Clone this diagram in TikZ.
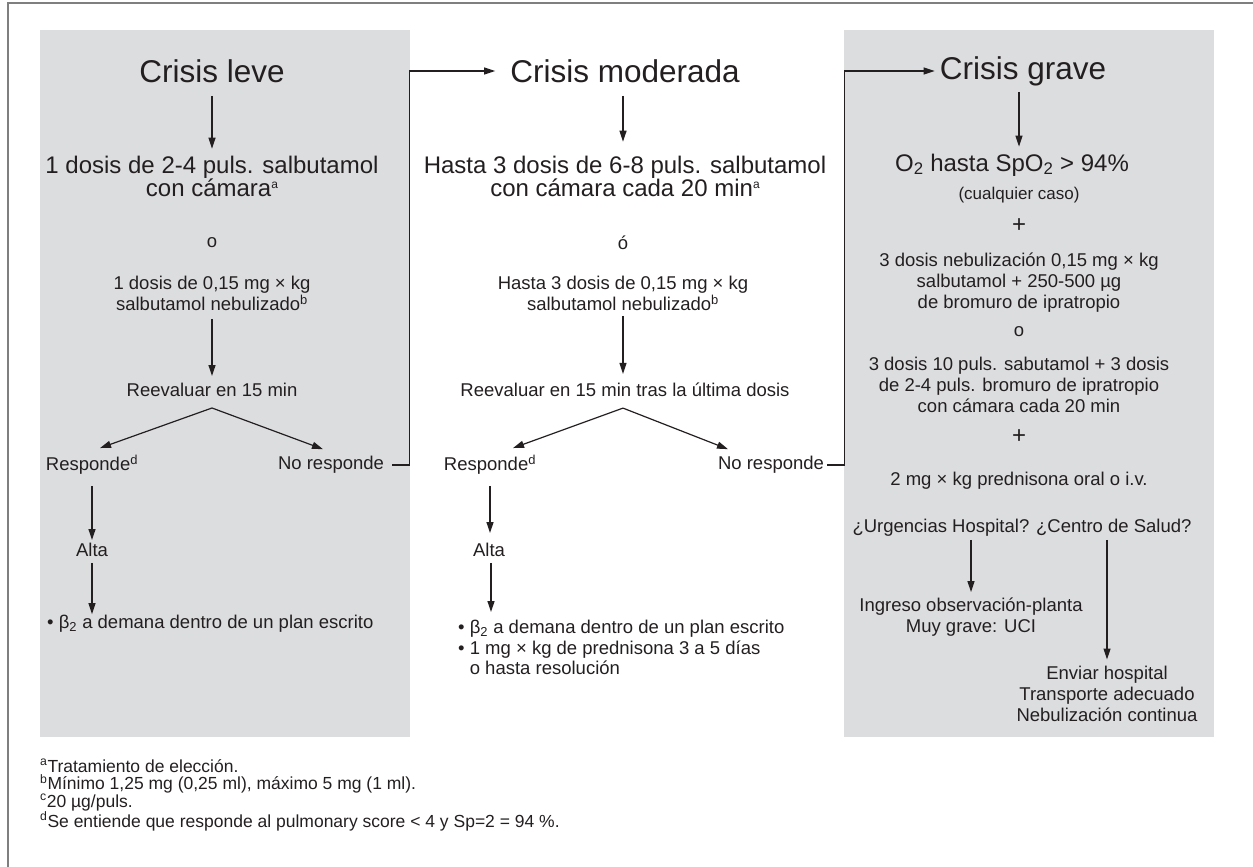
\documentclass[tikz,border=0pt]{standalone}
\usepackage{fontspec}
\setmainfont{Liberation Sans}
\usepackage{xcolor}
\usepackage{tikz}
\usetikzlibrary{arrows.meta}

\definecolor{ink}{HTML}{231F20}
\definecolor{panelgris}{HTML}{DCDDDF}
\definecolor{marco}{HTML}{7F7F7F}

% small index for the large text
\newcommand{\supind}[1]{\raisebox{8pt}{\fontsize{12}{12}\selectfont #1}}

\tikzset{
  titulo/.style={font=\fontsize{31.5}{36}\selectfont, text=ink, inner sep=0pt},
  grande/.style={font=\fontsize{24}{23.5}\selectfont, text=ink, align=center, inner sep=0pt},
  texto/.style={font=\fontsize{18.5}{21}\selectfont, text=ink, align=center, inner sep=0pt},
  lista/.style={font=\fontsize{18.5}{20.5}\selectfont, text=ink, align=left, inner sep=0pt},
  nota/.style={font=\fontsize{17.5}{17.5}\selectfont, text=ink, align=left, inner sep=0pt},
  flecha/.style={draw=ink, line width=1.2pt, -{Triangle[length=11pt,width=7pt]}},
}

\begin{document}
\begin{tikzpicture}[x=1pt, y=-1pt]
      \useasboundingbox (0,0) rectangle (1253,867);

      % Frame
      \draw[marco, line width=1.5pt] (1253,3) -- (8,3) -- (8,867);

      % Grey panels
      \fill[panelgris] (40,30) rectangle (410,737);
      \fill[panelgris] (844,30) rectangle (1214,737);

      % Crisis leve
      \node[titulo] (leve) at (212,71) {Crisis leve};
      \node[grande] (dosis1) at (212,176.5) {1 dosis de 2-4 puls. salbutamol\\con cámara\supind{a}};
      \node[texto] (o1) at (212,243) {o};
      \node[texto] (neb1) at (212,293.5) {1 dosis de 0,15 mg × kg\\salbutamol nebulizado\textsuperscript{b}};
      \node[texto] (reev1) at (212,390) {Reevaluar en 15 min};
      \node[texto] (resp1) at (92,465) {Responde\textsuperscript{d}};
      \node[texto] (nores1) at (331,465) {No responde};
      \node[texto] (alta1) at (92,550) {Alta};
      \node[lista, anchor=west] (plan1) at (47,624) {• β\textsubscript{2} a demana dentro de un plan escrito};

      % Crisis moderada
      \node[titulo] (moderada) at (625,71) {Crisis moderada};
      \node[grande] (dosis2) at (625,176.5) {Hasta 3 dosis de 6-8 puls. salbutamol\\con cámara cada 20 min\supind{a}};
      \node[texto] (o2) at (623,243) {ó};
      \node[texto] (neb2) at (623,293.5) {Hasta 3 dosis de 0,15 mg × kg\\salbutamol nebulizado\textsuperscript{b}};
      \node[texto] (reev2) at (625,390) {Reevaluar en 15 min tras la última dosis};
      \node[texto] (resp2) at (490,465) {Responde\textsuperscript{d}};
      \node[texto] (nores2) at (771,465) {No responde};
      \node[texto] (alta2) at (489,550) {Alta};
      \node[lista, anchor=west] (plan2) at (458,647.5) {• β\textsubscript{2} a demana dentro de un plan escrito\\• 1 mg × kg de prednisona 3 a 5 días\\\phantom{• }o hasta resolución};

      % Crisis grave
      \node[titulo] (grave) at (1023,71) {Crisis grave};
      \node[grande] (sat) at (1012,165) {O\textsubscript{2} hasta SpO\textsubscript{2} > 94\%};
      \node[texto, font=\fontsize{17}{20}\selectfont] (caso) at (1019,195) {(cualquier caso)};
      \node[grande] (mas1) at (1019,226) {+};
      \node[texto] (neb3) at (1019,283) {3 dosis nebulización 0,15 mg × kg\\salbutamol + 250-500 µg\\de bromuro de ipratropio};
      \node[texto] (o3) at (1019,332) {o};
      \node[texto] (puls3) at (1019,385) {3 dosis 10 puls. sabutamol + 3 dosis\\de 2-4 puls. bromuro de ipratropio\\con cámara cada 20 min};
      \node[grande] (mas2) at (1019,437) {+};
      \node[texto] (pred3) at (1019,481) {2 mg × kg prednisona oral o i.v.};
      \node[texto] (donde) at (1022,528) {¿Urgencias Hospital? ¿Centro de Salud?};
      \node[texto] (ingreso) at (971,617.5) {Ingreso observación-planta\\Muy grave: UCI};
      \node[texto] (enviar) at (1107,693.5) {Enviar hospital\\Transporte adecuado\\Nebulización continua};

      % Footnotes
      \node[nota, anchor=west] (notas) at (40,795) {\textsuperscript{a}Tratamiento de elección.\\\textsuperscript{b}Mínimo 1,25 mg (0,25 ml), máximo 5 mg (1 ml).\\\textsuperscript{c}20 µg/puls.\\\textsuperscript{d}Se entiende que responde al pulmonary score < 4 y Sp=2 = 94 \%.};

      % Arrows, left column
      \draw[flecha, shorten <=13pt, shorten >=7pt] (leve.south) -- (dosis1.north);
      \draw[flecha, shorten <=8pt, shorten >=7pt] (neb1.south) -- (neb1.south |- reev1.north);
      \draw[flecha] ([yshift=-11pt]reev1.south) -- ([xshift=8pt,yshift=7pt]resp1.north);
      \draw[flecha] ([yshift=-11pt]reev1.south) -- ([xshift=-8pt,yshift=7pt]nores1.north);
      \draw[flecha, shorten <=11pt, shorten >=3pt] (resp1.south) -- (alta1.north);
      \draw[flecha, shorten <=6pt, shorten >=1pt] (alta1.south) -- (alta1.south |- plan1.north);
      \draw[flecha, shorten <=8pt, shorten >=15pt] (nores1.east) -- ++(25,0) |- (moderada.west);

      % Arrows, middle column
      \draw[flecha, shorten <=13pt, shorten >=14pt] ([xshift=-2pt]moderada.south) -- ([xshift=-2pt]moderada.south |- dosis2.north);
      \draw[flecha, shorten <=5pt, shorten >=9pt] (neb2.south) -- (neb2.south |- reev2.north);
      \draw[flecha] ([xshift=-2pt,yshift=-11pt]reev2.south) -- ([xshift=23pt,yshift=7pt]resp2.north);
      \draw[flecha] ([xshift=-2pt,yshift=-11pt]reev2.south) -- ([xshift=-43pt,yshift=7pt]nores2.north);
      \draw[flecha, shorten <=11pt, shorten >=10pt] (resp2.south) -- (resp2.south |- alta2.north);
      \draw[flecha, shorten <=6pt, shorten >=8pt] ([xshift=2pt]alta2.south) -- ([xshift=2pt]alta2.south |- plan2.north);
      \draw[flecha, shorten <=3pt, shorten >=5pt] (nores2.east) -- ++(20,0) |- (grave.west);

      % Arrows, right column
      \draw[flecha, shorten <=6pt, shorten >=7pt] ([xshift=-4pt]grave.south) -- ([xshift=-4pt]grave.south |- sat.north);
      \draw[flecha, shorten <=3pt, shorten >=6pt] (ingreso.north |- donde.south) -- (ingreso.north);
      \draw[flecha, shorten <=3pt, shorten >=6pt] (enviar.north |- donde.south) -- (enviar.north);
\end{tikzpicture}
\end{document}
